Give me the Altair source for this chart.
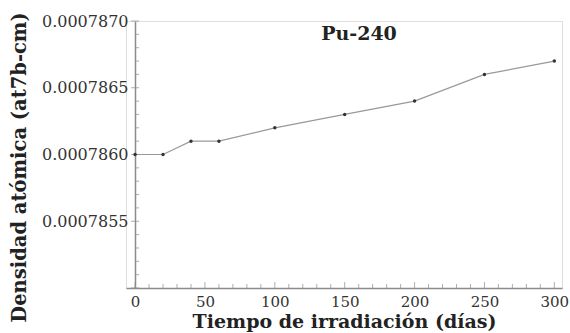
import altair as alt
import pandas as pd

days = [0, 20, 40, 60, 100, 150, 200, 250, 300]
density = [0.0007860, 0.0007860, 0.0007861, 0.0007861, 0.0007862,
           0.0007863, 0.0007864, 0.0007866, 0.0007867]

y_labels = [0.0007855, 0.0007860, 0.0007865, 0.0007870]
y_major = [0.0007850, 0.0007855, 0.0007860, 0.0007865, 0.0007870]
y_minor = [0.0007850 + i * 0.0000001 for i in range(21) if i % 5 != 0]
x_labels = [0, 50, 100, 150, 200, 250, 300]
x_minor = [v for v in range(10, 301, 10) if v % 50 != 0]

FONT = "DejaVu Serif"
GREY = "#8c8c8c"

df = pd.DataFrame({"t": days, "d": density})

xs = alt.Scale(domain=[-6.5, 305.5], nice=False, zero=False)
ys = alt.Scale(domain=[0.0007850, 0.0007870], nice=False, zero=False)

base = alt.Chart(df)

line = base.mark_line(color="#999999", strokeWidth=1.2).encode(
    x=alt.X("t:Q", scale=xs, axis=alt.Axis(
        values=x_labels, ticks=False, grid=False, labelFont=FONT, labelFontSize=15,
        labelColor="#333333", labelPadding=6, domainColor=GREY, domainWidth=1.5,
        title="Tiempo de irradiación (días)", titleFont=FONT, titleFontSize=19,
        titleFontWeight="bold", titleColor="#222222", titlePadding=3)),
    y=alt.Y("d:Q", scale=ys, axis=alt.Axis(
        values=y_labels, ticks=False, grid=False, format=".7f", labelFont=FONT,
        labelFontSize=16, labelColor="#333333", labelPadding=7, offset=-9,
        domainColor=GREY, domainWidth=1.5,
        title="Densidad atómica (at7b-cm)", titleFont=FONT, titleFontSize=19.5,
        titleFontWeight="bold", titleColor="#222222", titlePadding=12, titleY=146)),
)
pts = base.mark_circle(color="#333333", size=12, opacity=1).encode(
    x=alt.X("t:Q", scale=xs), y=alt.Y("d:Q", scale=ys))

ymin = alt.Chart(pd.DataFrame({"v": y_minor})).mark_tick(
    orient="horizontal", size=4, thickness=1, color=GREY, xOffset=2).encode(
    x=alt.datum(0, scale=xs), y=alt.Y("v:Q", scale=ys))
ymaj = alt.Chart(pd.DataFrame({"v": y_major})).mark_tick(
    orient="horizontal", size=8, thickness=1, color=GREY).encode(
    x=alt.datum(0, scale=xs), y=alt.Y("v:Q", scale=ys))
xmin = alt.Chart(pd.DataFrame({"v": x_minor})).mark_tick(
    orient="vertical", size=4, thickness=1, color=GREY, yOffset=-2).encode(
    x=alt.X("v:Q", scale=xs), y=alt.datum(0.0007850, scale=ys))
xmaj = alt.Chart(pd.DataFrame({"v": x_labels})).mark_tick(
    orient="vertical", size=6, thickness=1, color=GREY, yOffset=-3).encode(
    x=alt.X("v:Q", scale=xs), y=alt.datum(0.0007850, scale=ys))

chart = alt.layer(line, ymin, ymaj, xmin, xmaj, pts).properties(
    width=436, height=267,
    title=alt.TitleParams("Pu-240", font=FONT, fontSize=19, fontWeight="bold",
                          color="#222222", anchor="middle", dx=15, dy=36),
    autosize="none",
    padding={"left": 126, "top": 21, "right": 8, "bottom": 45},
).configure_view(stroke=None).configure(background="white")

chart.save("out.html", embed_options={"renderer": "svg", "actions": False})
